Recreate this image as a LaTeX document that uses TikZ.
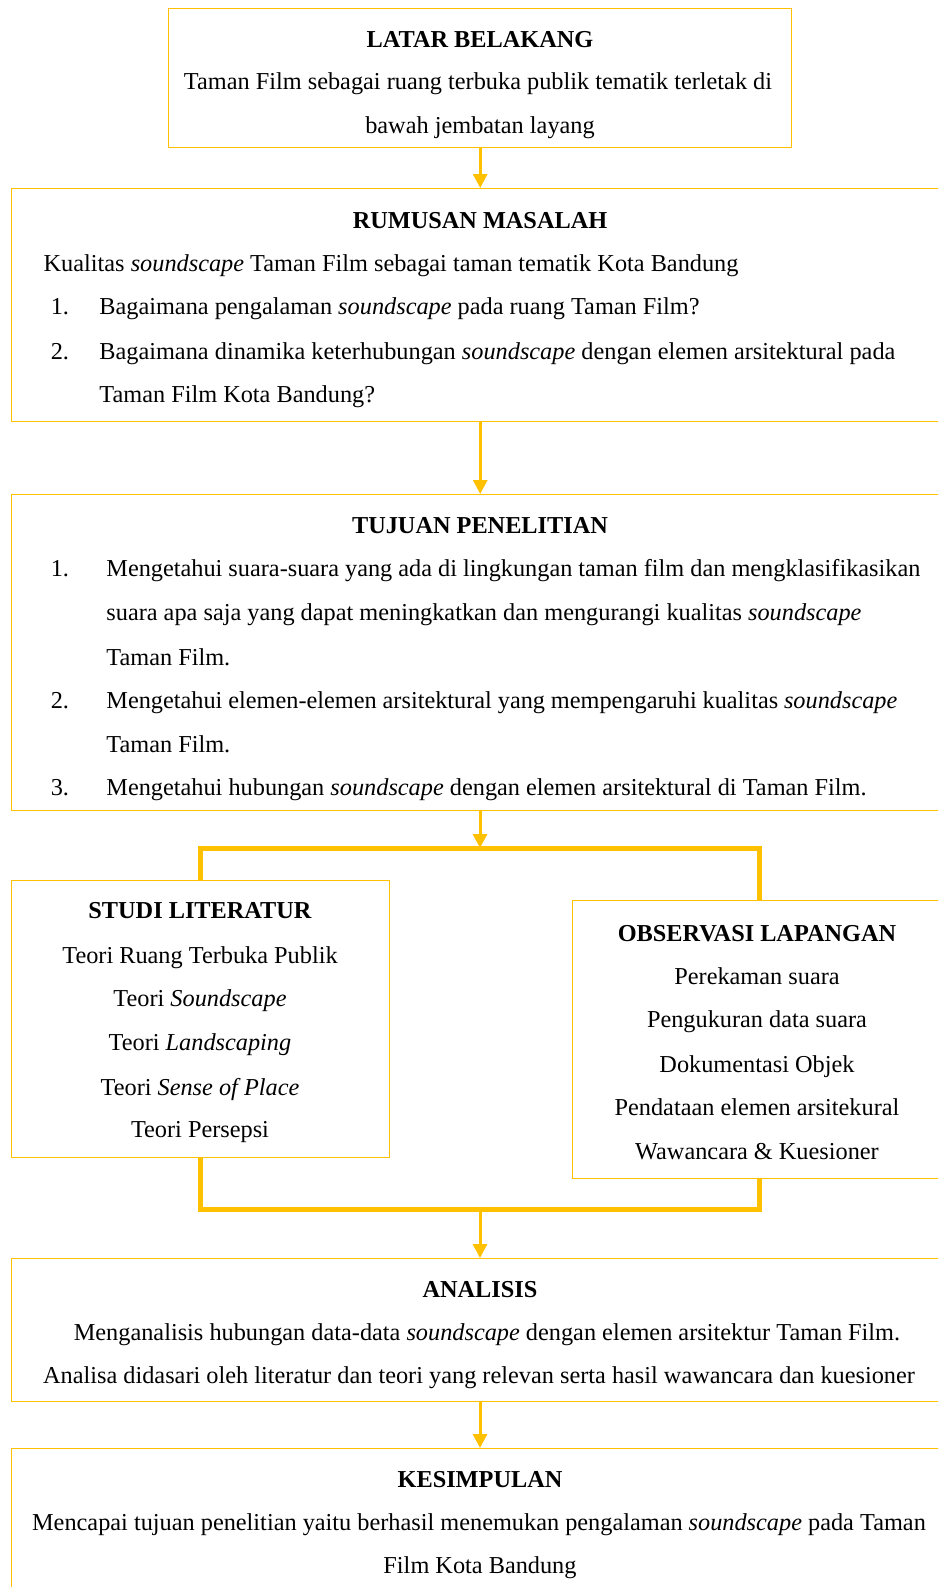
\documentclass[tikz,border=0pt]{standalone}
\usepackage{fontspec}
\setmainfont{Liberation Serif}
\usetikzlibrary{arrows.meta}
\definecolor{gold}{HTML}{FFC000}
\tikzset{
  box/.style={draw=gold, line width=1.4pt, rectangle, inner sep=0pt, anchor=north west},
  txt/.style={inner sep=0pt, font=\fontsize{24.3}{28}\selectfont},
  hd/.style={inner sep=0pt, font=\fontsize{24.3}{28}\selectfont\bfseries, anchor=base},
  arr/.style={draw=gold, line width=3pt, -{Triangle[width=14pt,length=14pt]}},
  bar/.style={draw=gold, line width=5pt},
}
\newcommand{\jl}[2]{\hbox to #1pt{#2}}
\begin{document}
\begin{tikzpicture}[x=1pt,y=-1pt]
\useasboundingbox (0,0) rectangle (938,1587);
\clip (0,0) rectangle (938,1587);
% boxes
\node[box, minimum width=623pt, minimum height=139pt] (latar) at (168,8) {};
\node[box, minimum width=939pt, minimum height=233pt] (rumusan) at (11,188) {};
\node[box, minimum width=939pt, minimum height=316pt] (tujuan) at (11,494) {};
\node[box, minimum width=378pt, minimum height=277pt] (studi) at (11,880) {};
\node[box, minimum width=378pt, minimum height=278pt] (observasi) at (572,900) {};
\node[box, minimum width=939pt, minimum height=143pt] (analisis) at (11,1258) {};
\node[box, minimum width=939pt, minimum height=160pt] (kesimpulan) at (11,1448) {};
\begin{scope}[yshift=-1.5pt]
% texts: latar
\node[hd] (t1) at (480,46.5) {LATAR BELAKANG};
\node[txt, anchor=base] (t2) at (478,88) {Taman Film sebagai ruang terbuka publik tematik terletak di};
\node[txt, anchor=base] (t3) at (480,132) {bawah jembatan layang};
% rumusan
\node[hd] (r0) at (480,226.6) {RUMUSAN MASALAH};
\node[txt, anchor=base west] (r1) at (43.5,270) {Kualitas \textit{soundscape} Taman Film sebagai taman tematik Kota Bandung};
\node[txt, anchor=base west] (r2n) at (50.6,312.6) {1.};
\node[txt, anchor=base west] (r2) at (99.2,312.6) {Bagaimana pengalaman \textit{soundscape} pada ruang Taman Film?};
\node[txt, anchor=base west] (r3n) at (50.6,358) {2.};
\node[txt, anchor=base west] (r3) at (99.2,358) {\jl{796}{Bagaimana dinamika keterhubungan \textit{soundscape} dengan elemen arsitektural pada}};
\node[txt, anchor=base west] (r4) at (99.2,400.6) {Taman Film Kota Bandung?};
% tujuan
\node[hd] (u0) at (480,532) {TUJUAN PENELITIAN};
\node[txt, anchor=base west] (u1n) at (50.6,574.7) {1.};
\node[txt, anchor=base west] (u1) at (106.2,574.7) {\jl{814}{Mengetahui suara-suara yang ada di lingkungan taman film dan mengklasifikasikan}};
\node[txt, anchor=base west] (u2) at (106.2,619) {suara apa saja yang dapat meningkatkan dan mengurangi kualitas \textit{soundscape}};
\node[txt, anchor=base west] (u3) at (106.2,663.7) {Taman Film.};
\node[txt, anchor=base west] (u4n) at (50.6,707) {2.};
\node[txt, anchor=base west] (u4) at (106.2,707) {\jl{791}{Mengetahui elemen-elemen arsitektural yang mempengaruhi kualitas \textit{soundscape}}};
\node[txt, anchor=base west] (u5) at (106.2,750.8) {Taman Film.};
\node[txt, anchor=base west] (u6n) at (50.6,794) {3.};
\node[txt, anchor=base west] (u6) at (106.2,794) {Mengetahui hubungan \textit{soundscape} dengan elemen arsitektural di Taman Film.};
% studi
\node[hd] (s0) at (200,917.3) {STUDI LITERATUR};
\node[txt, anchor=base] (s1) at (200,961.5) {Teori Ruang Terbuka Publik};
\node[txt, anchor=base] (s2) at (200,1005) {Teori \textit{Soundscape}};
\node[txt, anchor=base] (s3) at (200,1049) {Teori \textit{Landscaping}};
\node[txt, anchor=base] (s4) at (200,1093.8) {Teori \textit{Sense of Place}};
\node[txt, anchor=base] (s5) at (200,1136.3) {Teori Persepsi};
% observasi
\node[hd] (o0) at (757,940) {OBSERVASI LAPANGAN};
\node[txt, anchor=base] (o1) at (757,982.5) {Perekaman suara};
\node[txt, anchor=base] (o2) at (757,1026) {Pengukuran data suara};
\node[txt, anchor=base] (o3) at (757,1070.5) {Dokumentasi Objek};
\node[txt, anchor=base] (o4) at (757,1114) {Pendataan elemen arsitekural};
\node[txt, anchor=base] (o5) at (757,1157.5) {Wawancara \& Kuesioner};
% analisis
\node[hd] (a0) at (480,1296) {ANALISIS};
\node[txt, anchor=base] (a1) at (487,1338.7) {Menganalisis hubungan data-data \textit{soundscape} dengan elemen arsitektur Taman Film.};
\node[txt, anchor=base] (a2) at (479,1382) {Analisa didasari oleh literatur dan teori yang relevan serta hasil wawancara dan kuesioner};
% kesimpulan
\node[hd] (k0) at (480,1486.4) {KESIMPULAN};
\node[txt, anchor=base] (k1) at (479,1529) {Mencapai tujuan penelitian yaitu berhasil menemukan pengalaman \textit{soundscape} pada Taman};
\node[txt, anchor=base] (k2) at (480,1572.4) {Film Kota Bandung};
\end{scope}
% connectors
\coordinate (split) at (480,848);
\coordinate (splitR) at (759,848);
\coordinate (join) at (480,1209);
\coordinate (joinR) at (759,1209);
\draw[arr] (latar.south) -- (latar.south |- rumusan.north);
\draw[arr] (rumusan.south -| latar.south) -- (latar.south |- tujuan.north);
\draw[bar] (studi.north) |- (splitR) -- (splitR |- observasi.north);
\draw[bar] (studi.south) |- (joinR) -- (joinR |- observasi.south);
\draw[arr] (tujuan.south -| split) -- (split);
\draw[arr] (join) -- (join |- analisis.north);
\draw[arr] (analisis.south -| join) -- (join |- kesimpulan.north);
\end{tikzpicture}
\end{document}
